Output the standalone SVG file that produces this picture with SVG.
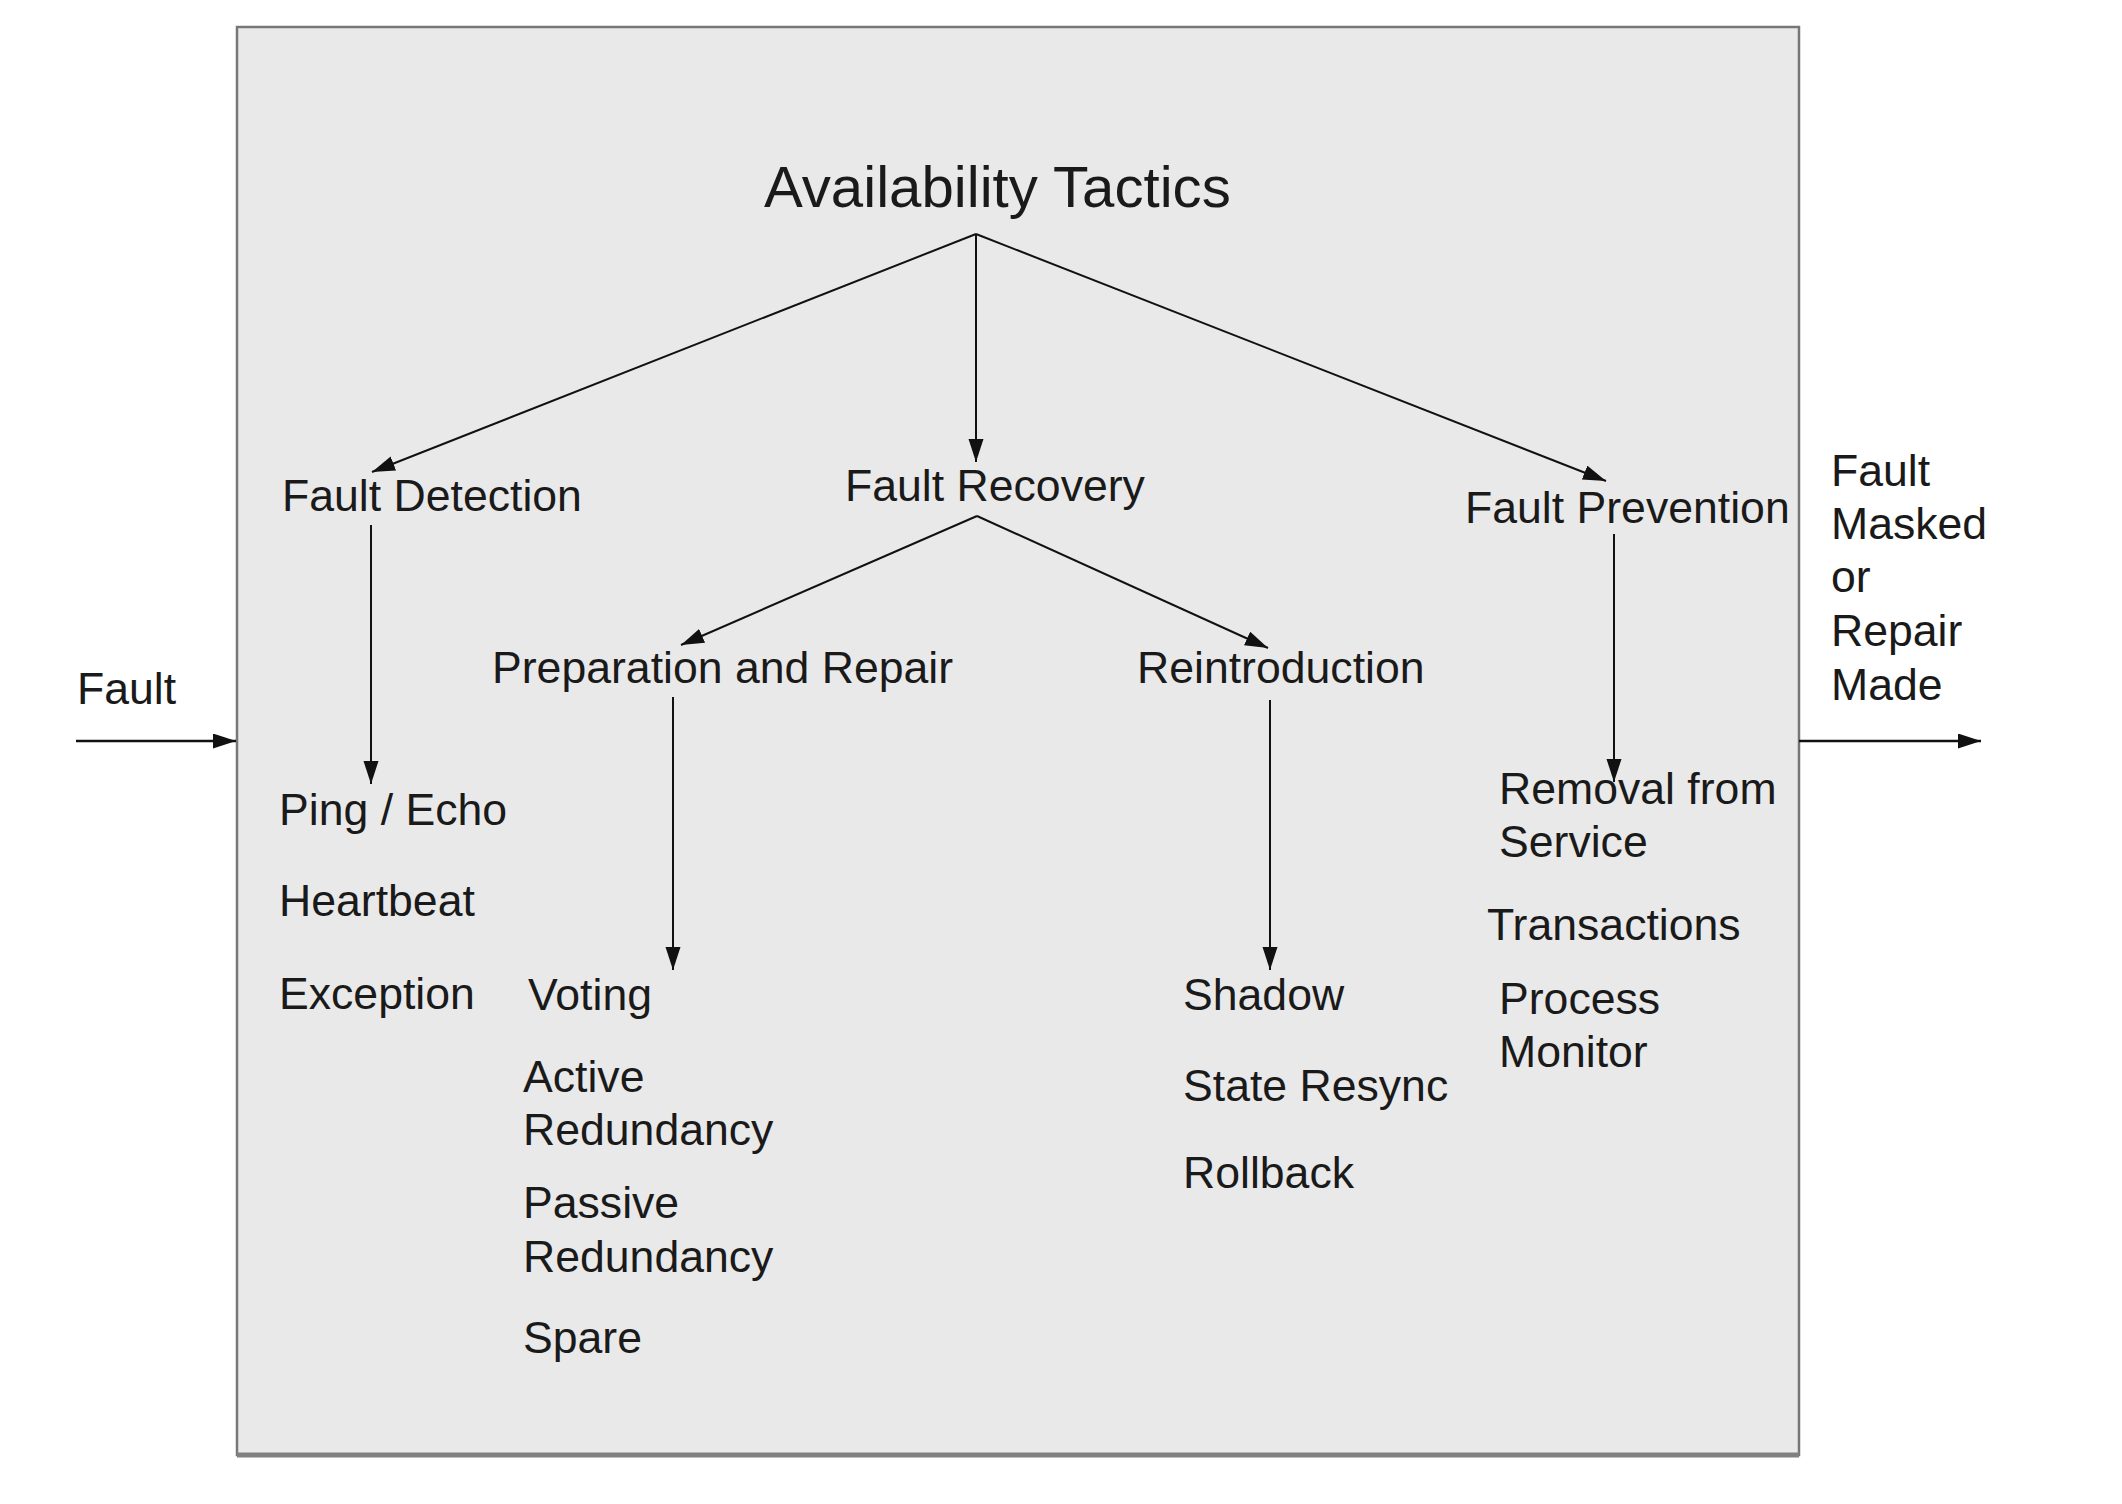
<svg xmlns="http://www.w3.org/2000/svg" width="2122" height="1504" viewBox="0 0 2122 1504">
<defs>
<marker id="ah" markerUnits="userSpaceOnUse" markerWidth="24" markerHeight="16" refX="23" refY="7.5" orient="auto">
<path d="M0,0 L23,7.5 L0,15 z" fill="#111"/>
</marker>
<style>
text{font-family:"Liberation Sans",Arial,sans-serif;fill:#1a1a1a;font-size:44.6px}
.t{font-size:58.2px}
.c{stroke:#111;stroke-width:2;fill:none;marker-end:url(#ah)}
.io{stroke-width:2.6}
</style>
</defs>
<rect width="2122" height="1504" fill="#fff"/>
<g id="frame">
<rect x="237" y="27" width="1562" height="1428" fill="#e9e9e9" stroke="#777" stroke-width="2.5"/>
<line x1="237" y1="1455" x2="1799" y2="1455" stroke="#808080" stroke-width="5"/>
</g>
<g id="connectors">
<line class="c" x1="976" y1="234" x2="372" y2="472"/>
<line class="c" x1="976" y1="234" x2="976" y2="462"/>
<line class="c" x1="976" y1="234" x2="1606" y2="481"/>
<line class="c" x1="371" y1="525" x2="371" y2="784"/>
<line class="c" x1="977" y1="516" x2="681" y2="645"/>
<line class="c" x1="977" y1="516" x2="1268" y2="648"/>
<line class="c" x1="673" y1="697" x2="673" y2="970"/>
<line class="c" x1="1270" y1="700" x2="1270" y2="970"/>
<line class="c" x1="1614" y1="534" x2="1614" y2="782"/>
<line class="c io" x1="76" y1="741" x2="236" y2="741"/>
<line class="c io" x1="1799" y1="741" x2="1981" y2="741"/>
</g>
<g id="title"><text class="t" x="764" y="207">Availability Tactics</text></g>
<g id="fault-detection"><text x="282" y="511">Fault Detection</text></g>
<g id="fault-recovery"><text x="845" y="501">Fault Recovery</text></g>
<g id="fault-prevention"><text x="1465" y="523">Fault Prevention</text></g>
<g id="prep-repair"><text x="492" y="683">Preparation and Repair</text></g>
<g id="reintroduction"><text x="1137" y="683">Reintroduction</text></g>
<g id="detection-tactics">
<text x="279" y="825">Ping / Echo</text>
<text x="279" y="916">Heartbeat</text>
<text x="279" y="1009">Exception</text>
</g>
<g id="prep-tactics">
<text x="528" y="1010">Voting</text>
<text x="523" y="1092">Active</text>
<text x="523" y="1145">Redundancy</text>
<text x="523" y="1218">Passive</text>
<text x="523" y="1272">Redundancy</text>
<text x="523" y="1353">Spare</text>
</g>
<g id="reintro-tactics">
<text x="1183" y="1010">Shadow</text>
<text x="1183" y="1101">State Resync</text>
<text x="1183" y="1188">Rollback</text>
</g>
<g id="prevention-tactics">
<text x="1499" y="804">Removal from</text>
<text x="1499" y="857">Service</text>
<text x="1487" y="940">Transactions</text>
<text x="1499" y="1014">Process</text>
<text x="1499" y="1067">Monitor</text>
</g>
<g id="fault-in"><text x="77" y="704">Fault</text></g>
<g id="fault-out">
<text x="1831" y="486">Fault</text>
<text x="1831" y="539">Masked</text>
<text x="1831" y="592">or</text>
<text x="1831" y="646">Repair</text>
<text x="1831" y="700">Made</text>
</g>
</svg>
